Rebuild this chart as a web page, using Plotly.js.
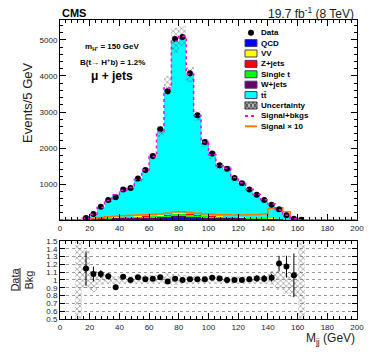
<!DOCTYPE html>
<html>
<head>
<meta charset="utf-8">
<script src="https://cdn.plot.ly/plotly-3.0.1.min.js"></script>
<style>
html, body { margin: 0; padding: 0; background: #fff; }
#plot { width: 374px; height: 359px; }
</style>
</head>
<body>
<div id="plot"></div>
<script>
// bin centres (5 GeV bins, 15-165 GeV)
var centers = [17.5, 22.5, 27.5, 32.5, 37.5, 42.5, 47.5, 52.5, 57.5, 62.5, 67.5, 72.5, 77.5, 82.5, 87.5,
               92.5, 97.5, 102.5, 107.5, 112.5, 117.5, 122.5, 127.5, 132.5, 137.5, 142.5, 147.5, 152.5, 157.5, 162.5];

var dataCounts = [55, 170, 370, 555, 630, 850, 890, 1150, 1390, 1780, 2520, 3575, 5030, 5080, 4075,
                  2910, 2170, 1850, 1520, 1425, 1170, 1020, 850, 705, 555, 425, 300, 130, 35, 10];

var qcd     = [5, 10, 15, 20, 25, 30, 30, 35, 35, 40, 40, 45, 55, 55, 50, 45, 40, 35, 35, 30, 30, 25, 25, 20, 20, 15, 12, 8, 3, 0];
var vv      = [1, 2, 3, 4, 4, 5, 5, 6, 6, 7, 8, 9, 12, 12, 10, 8, 7, 6, 5, 5, 4, 4, 3, 3, 3, 2, 2, 1, 0, 0];
var zjets   = [2, 4, 6, 8, 9, 10, 11, 12, 12, 13, 14, 16, 20, 20, 18, 15, 13, 12, 11, 10, 9, 8, 7, 6, 6, 5, 4, 2, 1, 0];
var singleT = [4, 8, 12, 16, 18, 22, 24, 26, 28, 32, 36, 42, 55, 55, 48, 40, 34, 30, 27, 24, 21, 19, 17, 15, 13, 11, 8, 4, 1, 0];
var wjets   = [4, 8, 12, 16, 18, 20, 22, 24, 26, 28, 32, 36, 45, 45, 40, 34, 30, 27, 25, 22, 20, 18, 16, 14, 12, 10, 7, 4, 1, 0];
var ttbar   = [32, 126, 296, 466, 621, 730, 798, 1008, 1269, 1630, 2305, 3500, 4759, 4893, 3869,
               2739, 2025, 1686, 1387, 1334, 1086, 946, 774, 633, 492, 370, 215, 92, 27, 0];
var signal10 = [15, 40, 70, 90, 105, 120, 130, 140, 150, 160, 170, 190, 220, 230, 210,
                190, 170, 160, 150, 145, 140, 140, 145, 150, 170, 320, 340, 230, 40, 0];

// relative bkg uncertainty band (lower / upper edge)
var uncLo = [0.90, 0.84, 0.94, 0.95, 0.95, 0.95, 0.95, 0.95, 0.95, 0.95, 0.95, 0.95, 0.94, 0.95, 0.95,
             0.95, 0.95, 0.95, 0.95, 0.95, 0.95, 0.95, 0.95, 0.95, 0.95, 0.93, 0.87, 0.82, 0.78, 0.5];
var uncHi = [1.38, 1.12, 1.08, 1.06, 1.05, 1.05, 1.05, 1.06, 1.06, 1.07, 1.07, 1.10, 1.08, 1.06, 1.05,
             1.05, 1.05, 1.06, 1.06, 1.05, 1.05, 1.05, 1.05, 1.06, 1.07, 1.12, 1.12, 1.10, 1.10, 1.5];
var ratioErr = [0.22, 0.095, 0.05, 0.04, 0.035, 0.03, 0.03, 0.03, 0.025, 0.02, 0.02, 0.015, 0.015, 0.015, 0.015,
                0.02, 0.02, 0.025, 0.025, 0.03, 0.03, 0.035, 0.035, 0.04, 0.045, 0.05, 0.1, 0.14, 0.28, 0];

var legendLabels = ['Data', 'QCD', 'VV', 'Z+jets', 'Single t', 'W+jets', 't\u0074\u0304', 'Uncertainty', 'Signal+bkgs', 'Signal \u00d7 10'];

var colQCD = '#0000ff', colVV = '#ffff00', colZ = '#ff0000', colT = '#00ff00', colW = '#660066', colTT = '#00ffff';
var colSB = '#ff00ff', colSig = '#ff7700';
var font = 'Liberation Sans, Arial, sans-serif';

// stacking, bottom to top
var layers = [qcd, wjets, singleT, zjets, vv, ttbar];
var layerCols = [colQCD, colW, colT, colZ, colVV, colTT];
var legendCols = [colQCD, colVV, colZ, colT, colW, colTT];
var base = centers.map(function() { return 0; });
var traces = [];
layers.forEach(function(arr, k) {
  traces.push({
    type: 'bar', x: centers, y: arr, base: base.slice(), width: 5,
    marker: {color: layerCols[k], line: {width: 0}},
    xaxis: 'x', yaxis: 'y', hoverinfo: 'skip'
  });
  base = base.map(function(b, i) { return b + arr[i]; });
});
var total = base;

// hatched uncertainty on the stack
traces.push({
  type: 'bar', x: centers, width: 5,
  base: total.map(function(t, i) { return t * uncLo[i]; }),
  y: total.map(function(t, i) { return t * (uncHi[i] - uncLo[i]); }),
  marker: {color: 'rgba(0,0,0,0)', line: {width: 0},
           pattern: {shape: 'x', fgcolor: '#444', bgcolor: 'rgba(0,0,0,0)', fillmode: 'overlay', size: 4, solidity: 0.35}},
  xaxis: 'x', yaxis: 'y'
});

// step helper for full range lines
function stepX() {
  var x = [0];
  centers.forEach(function(c) { x.push(c - 2.5); });
  x.push(165, 200);
  return x;
}
function stepY(vals) {
  return [0].concat(vals).concat([0, 0]);
}

traces.push({
  type: 'scatter', mode: 'lines', x: stepX(), y: stepY(signal10),
  line: {shape: 'hv', color: colSig, width: 1.5}, xaxis: 'x', yaxis: 'y'
});

traces.push({
  type: 'scatter', mode: 'markers', x: centers, y: dataCounts,
  marker: {color: '#000', size: 6}, xaxis: 'x', yaxis: 'y'
});

var sigBkg = total.map(function(t, i) { return t + signal10[i] / 10; });
traces.push({
  type: 'scatter', mode: 'lines', x: stepX(), y: stepY(sigBkg),
  line: {shape: 'hv', color: colSB, width: 1.5, dash: 'dot'}, xaxis: 'x', yaxis: 'y'
});

// ratio panel
var bandX = [12.5].concat(centers);
var bandLo = [0.5].concat(uncLo);
var bandHi = [1.5].concat(uncHi);
traces.push({
  type: 'bar', x: bandX, width: 5, base: bandLo,
  y: bandHi.map(function(h, i) { return h - bandLo[i]; }),
  marker: {color: 'rgba(0,0,0,0)', line: {width: 0},
           pattern: {shape: 'x', fgcolor: '#444', bgcolor: 'rgba(0,0,0,0)', fillmode: 'overlay', size: 4, solidity: 0.35}},
  xaxis: 'x2', yaxis: 'y2'
});

var ratio = dataCounts.map(function(d, i) { return total[i] > 0 ? d / total[i] : null; });
traces.push({
  type: 'scatter', mode: 'markers', x: centers, y: ratio,
  marker: {color: '#000', size: 6},
  error_y: {type: 'data', array: ratioErr, color: '#000', thickness: 1, width: 0},
  xaxis: 'x2', yaxis: 'y2'
});

// pixel -> main-plot data coordinates (for legend / labels)
function gx(px) { return (px - 60) / 1.485; }
function gy(py) { return (220 - py) * 27.78; }

var shapes = [];
var annotations = [];
legendLabels.forEach(function(lab, i) {
  var cy = 32.7 + 10.4 * i;
  annotations.push({
    xref: 'x', yref: 'y', x: gx(259), y: gy(cy), xanchor: 'left', yanchor: 'middle',
    text: lab, showarrow: false, font: {family: font, size: 8, color: '#000', weight: 'bold'}
  });
  if (i === 0) {
    shapes.push({type: 'circle', xref: 'x', yref: 'y', x0: gx(248), x1: gx(254), y0: gy(cy + 3), y1: gy(cy - 3),
                 fillcolor: '#000', line: {width: 0}});
  } else if (i <= 6) {
    shapes.push({type: 'rect', xref: 'x', yref: 'y', x0: gx(245), x1: gx(257), y0: gy(cy + 3.5), y1: gy(cy - 3.5),
                 fillcolor: legendCols[i - 1], line: {color: '#4a3a6a', width: 1}});
  } else if (i === 7) {
    shapes.push({type: 'rect', xref: 'x', yref: 'y', x0: gx(245), x1: gx(257), y0: gy(cy + 3.5), y1: gy(cy - 3.5),
                 fillcolor: '#bbbbbb', line: {color: '#333', width: 1}});
    var p = '';
    [245, 249, 253].forEach(function(a) {
      p += 'M' + gx(a) + ',' + gy(cy + 3.5) + 'L' + gx(a + 4) + ',' + gy(cy - 3.5);
      p += 'M' + gx(a + 4) + ',' + gy(cy + 3.5) + 'L' + gx(a) + ',' + gy(cy - 3.5);
    });
    shapes.push({type: 'path', xref: 'x', yref: 'y', path: p, line: {color: '#333', width: 0.8}});
  } else {
    shapes.push({type: 'line', xref: 'x', yref: 'y', x0: gx(245), x1: gx(257), y0: gy(cy), y1: gy(cy),
                 line: {color: i === 8 ? colSB : colSig, width: 2, dash: i === 8 ? 'dot' : 'solid'}});
  }
});

// Data/Bkg fraction bar (between the two lines of the ratio axis title)
shapes.push({type: 'line', xref: 'paper', yref: 'paper',
             x0: (20 - 60) / 297, x1: (20 - 60) / 297, y0: (319 - 268) / 299, y1: (319 - 291) / 299,
             line: {color: '#222', width: 1}});

annotations.push(
  {xref: 'x', yref: 'y', x: gx(112), y: gy(46.7), text: 'm<sub>H\u207a</sub> = 150 GeV', showarrow: false,
   font: {family: font, size: 8, weight: 'bold', color: '#000'}},
  {xref: 'x', yref: 'y', x: gx(112), y: gy(61.7), text: 'B(t\u2192 H<sup>+</sup>b) = 1.2%', showarrow: false,
   font: {family: font, size: 8, weight: 'bold', color: '#000'}},
  {xref: 'x', yref: 'y', x: gx(112), y: gy(76), text: '\u03bc + jets', showarrow: false,
   font: {family: font, size: 12, weight: 'bold', color: '#000'}},
  {xref: 'paper', yref: 'paper', x: 0, y: (319 - 13) / 299, xanchor: 'left', yanchor: 'middle',
   text: 'CMS', showarrow: false, font: {family: font, size: 11, weight: 'bold', color: '#000'}},
  {xref: 'paper', yref: 'paper', x: (356 - 60) / 297, y: (319 - 13) / 299, xanchor: 'right', yanchor: 'middle',
   text: '19.7 fb<sup>-1</sup> (8 TeV)', showarrow: false, font: {family: font, size: 12, color: '#222'}},
  {xref: 'paper', yref: 'paper', x: (18 - 60) / 297, y: (319 - 60) / 299, textangle: -90,
   text: 'Events/5 GeV', showarrow: false, font: {family: font, size: 13, color: '#222'}},
  {xref: 'paper', yref: 'paper', x: (357 - 60) / 297, y: (319 - 339) / 299, xanchor: 'right', yanchor: 'middle',
   text: 'M<sub>jj</sub> (GeV)', showarrow: false, font: {family: font, size: 12, color: '#222'}}
);

var tickFont = {family: font, size: 8, color: '#222'};
var xCommon = {
  range: [0, 200], showline: true, linecolor: '#000', linewidth: 1, mirror: 'ticks',
  ticks: 'inside', ticklen: 6, tickcolor: '#000', tickmode: 'linear', tick0: 0, dtick: 20,
  minor: {ticks: 'inside', ticklen: 3, tickmode: 'linear', tick0: 0, dtick: 4, tickcolor: '#000'},
  showgrid: false, zeroline: false, tickfont: tickFont
};
var ratioTicks = [0.5, 0.6, 0.7, 0.8, 0.9, 1.0, 1.1, 1.2, 1.3, 1.4, 1.5];

var layout = {
  width: 374, height: 359,
  margin: {l: 60, r: 17, t: 20, b: 40},
  paper_bgcolor: '#fff', plot_bgcolor: '#fff',
  showlegend: false, barmode: 'overlay', bargap: 0,
  font: {family: font},
  xaxis: Object.assign({}, xCommon, {anchor: 'y', domain: [0, 1]}),
  yaxis: {
    anchor: 'x', domain: [0.331, 1], range: [0, 5555], showline: true, linecolor: '#000', linewidth: 1,
    mirror: 'ticks', ticks: 'inside', ticklen: 6, tickcolor: '#000',
    tickmode: 'array', tickvals: [1000, 2000, 3000, 4000, 5000],
    minor: {ticks: 'inside', ticklen: 3, tickmode: 'linear', tick0: 0, dtick: 200, tickcolor: '#000'},
    showgrid: false, zeroline: false, tickfont: tickFont
  },
  xaxis2: Object.assign({}, xCommon, {anchor: 'y2', domain: [0, 1]}),
  yaxis2: {
    anchor: 'x2', domain: [0, 0.261], range: [0.5, 1.5], showline: true, linecolor: '#000', linewidth: 1,
    mirror: 'ticks', ticks: 'inside', ticklen: 5, tickcolor: '#000',
    tickmode: 'array', tickvals: ratioTicks,
    ticktext: ['0.5', '0.6', '0.7', '0.8', '0.9', '1', '1.1', '1.2', '1.3', '1.4', '1.5'],
    showgrid: true, gridcolor: '#999', griddash: 'dot', gridwidth: 1,
    zeroline: false, tickfont: tickFont,
    title: {text: 'Data<br>Bkg', font: {family: font, size: 11, color: '#222'}, standoff: 10}
  },
  shapes: shapes,
  annotations: annotations
};

Plotly.newPlot('plot', traces, layout, {staticPlot: true, displayModeBar: false});
</script>
</body>
</html>
